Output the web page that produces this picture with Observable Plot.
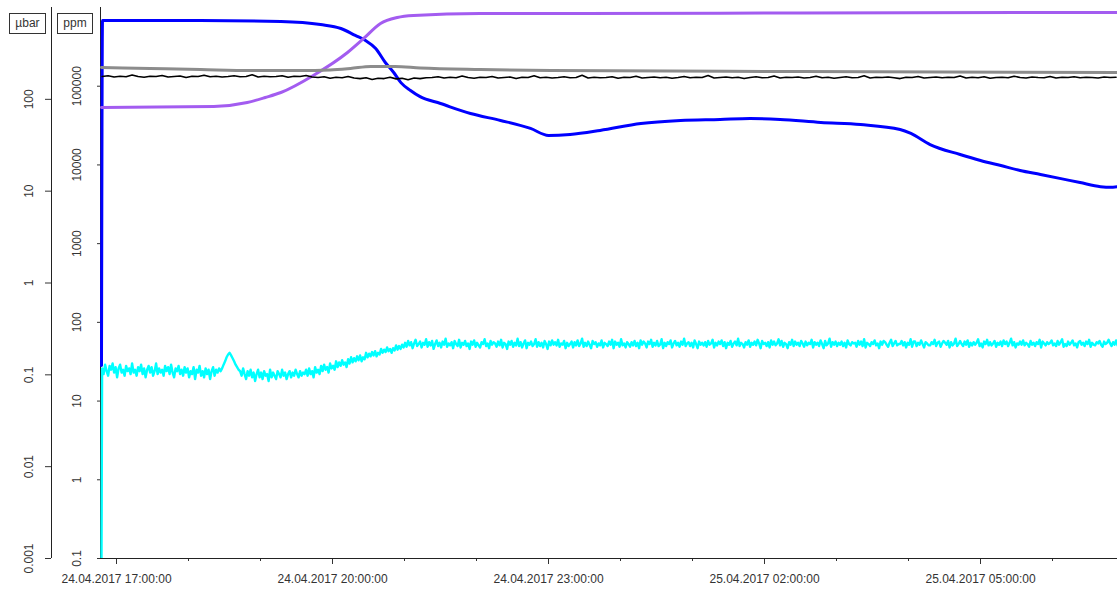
<!DOCTYPE html>
<html>
<head>
<meta charset="utf-8">
<script src="https://cdn.jsdelivr.net/npm/d3@7"></script>
<script src="https://cdn.jsdelivr.net/npm/@observablehq/plot@0.6"></script>
<style>
  body { margin: 0; background: #fff; font-family: "Liberation Sans", Arial, sans-serif; }
  #wrap { position: relative; width: 1117px; height: 589px; }
  .unit { position: absolute; top: 13px; height: 19px; border: 1px solid #333; font-size: 12px; line-height: 19px; text-align: center; color: #333; background: #fff; }
</style>
</head>
<body>
<div id="wrap">
  <div class="unit" style="left:9px;width:35px">µbar</div>
  <div class="unit" style="left:57px;width:34px">ppm</div>
</div>
<script>
// ---------- axes / ticks ----------
const xStartStr = "2017-04-24T16:46:40";
const xEndStr = "2017-04-25T06:54:10";
const majorTickTimes = ["2017-04-24T17:00", "2017-04-24T20:00", "2017-04-24T23:00", "2017-04-25T02:00", "2017-04-25T05:00"];
const minorTickTimes = ["2017-04-24T18:00", "2017-04-24T19:00", "2017-04-24T21:00", "2017-04-24T22:00", "2017-04-25T00:00", "2017-04-25T01:00", "2017-04-25T03:00", "2017-04-25T04:00", "2017-04-25T06:00"];
const ppmTicks = [0.1, 1, 10, 100, 1000, 10000, 100000];
const ubarTicks = [0.001, 0.01, 0.1, 1, 10, 100];
const ppmDomain = [0.1, 1e6];
const ubarDomain = [0.001, 1000];

// ---------- series ----------
// blue: pressure (µbar)
const blueTime = ["2017-04-24T16:47:30","2017-04-24T16:48:20","2017-04-24T18:10","2017-04-24T19:17","2017-04-24T19:50","2017-04-24T20:07","2017-04-24T20:19","2017-04-24T20:27:30","2017-04-24T20:36","2017-04-24T20:44","2017-04-24T20:51","2017-04-24T20:57","2017-04-24T21:05","2017-04-24T21:13","2017-04-24T21:30","2017-04-24T21:55","2017-04-24T22:20","2017-04-24T22:45","2017-04-24T23:00","2017-04-24T23:18","2017-04-24T23:43","2017-04-25T00:17","2017-04-25T00:50","2017-04-25T01:23","2017-04-25T01:48","2017-04-25T02:13","2017-04-25T02:47","2017-04-25T03:20","2017-04-25T03:53","2017-04-25T04:02","2017-04-25T04:18","2017-04-25T04:43","2017-04-25T05:00","2017-04-25T05:17","2017-04-25T05:33","2017-04-25T05:50","2017-04-25T06:07","2017-04-25T06:23","2017-04-25T06:40","2017-04-25T06:48","2017-04-25T06:54"];
const blueUbar = [0.126,723,723,705,653,591,496,437,358,252,196,152,125,107,90,70,58.9,48.2,40.4,41.4,45.8,54.6,58.9,60.4,61.8,60.4,56.0,53.2,47.0,42.5,32.2,25.1,21.6,19.0,16.8,15.2,13.7,12.4,11.2,11.0,11.2];

// purple (ppm)
const purpleTime = ["2017-04-24T16:47:30","2017-04-24T18:21","2017-04-24T18:49","2017-04-24T19:04","2017-04-24T19:17","2017-04-24T19:44","2017-04-24T20:12:30","2017-04-24T20:26","2017-04-24T20:40","2017-04-24T20:54","2017-04-24T21:07:30","2017-04-24T22:03","2017-04-24T23:27","2017-04-25T02:30","2017-04-25T06:54"];
const purplePpm = [53700,55300,62100,71900,83200,137000,268000,404000,627000,747000,792000,840000,840000,853000,865000];

// gray (ppm)
const grayTime = ["2017-04-24T16:47:30","2017-04-24T17:28","2017-04-24T18:10","2017-04-24T18:52","2017-04-24T19:33","2017-04-24T19:58","2017-04-24T20:15","2017-04-24T20:32","2017-04-24T20:52","2017-04-24T21:13","2017-04-24T22:03","2017-04-24T23:02","2017-04-25T02:30","2017-04-25T06:54"];
const grayPpm = [173000,168000,163000,158500,158500,161000,168000,178000,178000,170600,163000,158500,153800,149600];

// black (ppm), sampled every 5 minutes from blackStart
const blackStart = "2017-04-24T16:48";
const blackStepMin = 5;
const blackPpm = [
133000,136000,131000,134000,132000,139000,133000,130000,134000,133000,137000,131000,133000,135000,129000,134000,133000,138000,132000,134000,131000,133000,136000,132000,133000,140000,131000,134000,132000,133000,136000,130000,134000,133000,137000,131000,
129000,132000,126000,130000,128000,133000,127000,
125000,128000,122000,126000,125000,130000,124000,126000,121000,127000,125000,128000,
129000,132000,127000,130000,128000,135000,129000,126000,130000,129000,
133000,127000,129000,131000,125000,130000,129000,136000,128000,130000,
127000,129000,132000,128000,129000,138000,127000,130000,128000,129000,
132000,126000,130000,129000,134000,127000,129000,131000,128000,130000,
126000,129000,133000,128000,130000,129000,137000,127000,129000,131000,
128000,130000,125000,129000,132000,128000,129000,135000,127000,130000,
129000,131000,127000,129000,134000,128000,130000,126000,129000,132000,
128000,129000,136000,127000,130000,129000,131000,128000,125000,130000,
129000,133000,127000,129000,131000,128000,130000,129000,135000,127000,
130000,128000,132000,126000,129000,130000,128000,134000,129000,127000,
131000,129000,128000,133000,127000,130000,129000,132000,128000,130000,
129000,127000,131000,129000,130000];

// cyan (ppm): first reading, then sampled every 1.25 minutes from cyanStart
const cyanFirstTime = "2017-04-24T16:47:30";
const cyanFirstPpm = 0.1;
const cyanStart = "2017-04-24T16:48";
const cyanStepMin = 1.25;
const cyanPpm = [
26,22,29,24,21,28,25,30,23,27,20,26,29,23,25,21,28,24,26,22,
30,23,25,21,27,24,29,22,26,20,25,28,23,27,21,24,30,22,26,23,
25,21,28,24,27,22,29,23,20,26,24,28,22,25,21,27,23,26,20,24,
22,27,19,25,23,28,21,24,20,26,22,25,19,24,27,21,25,23,26,24,
26,29,32,36,39,41,38,35,32,29,27,25,
24,21,26,22,19,24,21,25,20,23,18,22,25,20,23,19,24,21,22,18,
25,20,23,21,19,24,22,20,25,21,23,19,22,24,20,23,21,25,22,20,
24,21,23,22,
25,21,26,22,24,20,27,23,25,22,
28,24,29,25,27,23,30,26,28,25,
32,27,31,28,33,29,31,27,34,30,
36,31,35,32,37,33,38,32,36,34,
41,36,40,37,42,38,43,37,41,39,
46,41,45,42,48,43,46,41,47,44,
51,45,50,46,52,48,
55,49,58,51,56,47,54,60,50,53,
57,48,55,52,61,49,56,51,58,46,
53,59,50,55,48,57,52,62,49,54,
51,56,47,58,53,50,60,48,55,52,
58,50,54,46,57,52,59,49,55,51,
48,56,53,61,50,54,47,58,52,56,
54,49,57,51,60,48,55,53,46,57,
52,58,49,55,51,62,50,56,48,54,
59,47,55,52,57,50,53,61,49,56,
50,55,48,58,53,46,57,51,59,52,
56,51,60,49,54,52,58,47,55,50,
53,57,48,56,51,59,50,54,62,49,
55,50,57,52,47,58,53,56,49,54,
51,59,48,55,53,50,57,52,60,47,
57,52,55,49,61,51,54,48,56,53,
49,56,51,58,50,55,47,59,52,57,
54,48,57,53,60,49,55,51,58,50,
52,61,47,55,50,56,53,59,48,54,
58,51,55,49,57,52,62,50,54,56,
50,55,48,59,53,47,57,52,55,51,
56,49,58,52,54,60,48,55,51,57,
53,59,50,56,47,55,52,58,49,54,
57,51,62,50,55,53,48,56,52,59,
49,55,52,57,51,60,54,47,58,53,
55,50,56,48,59,52,57,51,54,61,
51,58,49,55,53,47,56,52,60,50,
57,52,55,50,58,54,49,57,51,55,
53,60,48,56,52,55,50,59,53,47,
58,51,54,62,49,56,52,57,50,55,
52,57,50,55,48,59,53,51,56,54,
55,49,58,52,57,50,61,48,55,53,
50,56,53,59,51,54,47,57,52,58,
56,52,49,55,60,50,54,58,51,53,
53,58,51,56,48,55,52,61,49,57,
57,50,55,52,59,53,48,56,54,51,
51,56,53,60,50,55,57,49,54,58,
55,52,58,48,56,51,54,62,50,53,
58,53,50,57,52,59,49,55,51,56,
52,55,61,50,54,48,57,53,60,51,
56,51,54,58,49,55,52,57,50,59,
53,57,50,55,62,51,56,48,54,52,
57,52,59,51,55,53,49,58,52,55,
50,56,53,60,48,57,54,51,56,53,
55,59,51,54,50,58,52,56,61,49,
53,50,57,52,55,59,51,54,48,56,
58,52,55,50,57,53,60,49,55,52,
51,56,54,58,52,49,57,53,55,60,
54,50,56,52,59,51,55,53,57,52];

// ---------- helpers ----------
const parse = s => new Date(s);
// place a µbar value on the shared ppm position scale (both axes span the same height)
const ubarToPpm = v => {
  const f = (Math.log10(v) - Math.log10(ubarDomain[0])) / (Math.log10(ubarDomain[1]) - Math.log10(ubarDomain[0]));
  return Math.pow(10, Math.log10(ppmDomain[0]) + f * (Math.log10(ppmDomain[1]) - Math.log10(ppmDomain[0])));
};
const zip = (times, vals) => times.map((t, i) => ({t: parse(t), v: vals[i]}));
const sampled = (start, stepMin, vals) => {
  const t0 = parse(start).getTime();
  return vals.map((v, i) => ({t: new Date(t0 + i * stepMin * 60000), v}));
};

const blueData = zip(blueTime, blueUbar);
const purpleData = zip(purpleTime, purplePpm);
const grayData = zip(grayTime, grayPpm);
const blackData = sampled(blackStart, blackStepMin, blackPpm);
const cyanData = [{t: parse(cyanFirstTime), v: cyanFirstPpm}, ...sampled(cyanStart, cyanStepMin, cyanPpm)];

const xStart = parse(xStartStr), xEnd = parse(xEndStr);
const fmt = d3.timeFormat("%d.%m.%Y %H:%M:%S");

const chart = Plot.plot({
  width: 1117,
  height: 589,
  marginLeft: 100,
  marginRight: 0,
  marginTop: 7,
  marginBottom: 31,
  style: {fontFamily: "'Liberation Sans', Arial, sans-serif", fontSize: "12px", color: "#333", background: "white", overflow: "visible"},
  x: {type: "time", domain: [xStart, xEnd]},
  y: {type: "log", domain: ppmDomain},
  marks: [
    Plot.axisY({ticks: ppmTicks, tickSize: 3, tickFormat: () => "", label: null, stroke: "#333"}),
    Plot.axisY({ticks: ubarTicks.map(ubarToPpm), tickSize: 6, tickFormat: () => "", label: null, dx: -49, stroke: "#333"}),
    Plot.text(ppmTicks, {y: d => d, text: d => String(d), frameAnchor: "left", dx: -23, rotate: -90, textAnchor: "middle", lineAnchor: "middle", fill: "#333"}),
    Plot.text(ubarTicks, {y: d => ubarToPpm(d), text: d => String(d), frameAnchor: "left", dx: -71, rotate: -90, textAnchor: "middle", lineAnchor: "middle", fill: "#333"}),
    Plot.axisX({ticks: minorTickTimes.map(parse), tickSize: 3, tickFormat: () => "", label: null, stroke: "#333"}),
    Plot.axisX({ticks: majorTickTimes.map(parse), tickSize: 6, tickPadding: 10, tickFormat: fmt, label: null, stroke: "#333", fill: "#333"}),
    Plot.ruleX([xStart], {stroke: "#222"}),
    Plot.ruleX([xStart], {stroke: "#222", dx: -49}),
    Plot.ruleY([ppmDomain[0]], {stroke: "#222"}),
    Plot.line(blueData, {x: "t", y: d => ubarToPpm(d.v), stroke: "#0000ff", strokeWidth: 3, curve: "monotone-x", clip: true}),
    Plot.line(purpleData, {x: "t", y: "v", stroke: "#a35cf0", strokeWidth: 3, curve: "monotone-x", clip: true}),
    Plot.line(grayData, {x: "t", y: "v", stroke: "#8c8c8c", strokeWidth: 3, curve: "monotone-x", clip: true}),
    Plot.line(blackData, {x: "t", y: "v", stroke: "#000", strokeWidth: 1.6, clip: true}),
    Plot.line(cyanData, {x: "t", y: "v", stroke: "#00ffff", strokeWidth: 2.4, clip: true})
  ]
});
document.getElementById("wrap").prepend(chart);
</script>
</body>
</html>
